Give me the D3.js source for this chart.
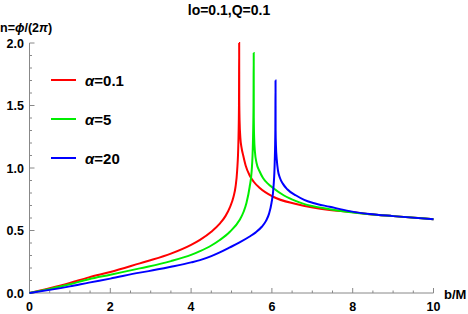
<!DOCTYPE html>
<html>
<head>
<meta charset="utf-8">
<script src="https://cdn.jsdelivr.net/npm/d3@7"></script>
<style>
  body { margin: 0; background: #fff; }
  text { font-family: Arial, "Liberation Sans", sans-serif; font-weight: bold; }
</style>
</head>
<body>
<div id="chart"></div>
<script>
// values (b/M, n)
const redB   = [0, 0.5, 1.0, 1.47, 2.0, 2.73, 2.95, 3.5, 4.0, 4.22, 4.5, 4.71, 4.85, 4.96, 5.05, 5.1, 5.14, 5.17, 5.185, 5.19, 5.192, 5.2, 5.22, 5.25, 5.29, 5.35, 5.45, 5.55, 5.7, 6.03, 6.6, 7.43, 7.92, 8.42, 9.0, 10];
const redN   = [0, 0.038, 0.08, 0.125, 0.168, 0.237, 0.258, 0.315, 0.385, 0.425, 0.49, 0.555, 0.615, 0.685, 0.77, 0.85, 0.98, 1.2, 1.5, 2.0, 1.55, 1.38, 1.24, 1.16, 1.1, 1.02, 0.94, 0.89, 0.84, 0.77, 0.712, 0.664, 0.65, 0.63, 0.615, 0.59];
const greenB = [0, 0.5, 1.0, 1.47, 2.0, 2.73, 2.95, 3.5, 4.0, 4.22, 4.5, 4.71, 4.96, 5.2, 5.3, 5.37, 5.45, 5.5, 5.53, 5.545, 5.55, 5.552, 5.56, 5.58, 5.62, 5.7, 5.78, 5.9, 6.03, 6.3, 6.6, 6.77, 7.43, 8.42, 9.0, 10];
const greenN = [0, 0.033, 0.07, 0.11, 0.146, 0.197, 0.212, 0.255, 0.305, 0.335, 0.38, 0.424, 0.49, 0.584, 0.65, 0.72, 0.85, 0.98, 1.2, 1.5, 1.92, 1.4, 1.25, 1.13, 1.04, 0.97, 0.92, 0.875, 0.84, 0.78, 0.735, 0.715, 0.67, 0.63, 0.615, 0.59];
const blueB  = [0, 0.5, 1.0, 1.47, 2.0, 2.73, 2.95, 3.5, 4.0, 4.22, 4.5, 4.71, 4.96, 5.2, 5.45, 5.6, 5.75, 5.85, 5.93, 5.99, 6.04, 6.07, 6.085, 6.09, 6.092, 6.1, 6.12, 6.15, 6.2, 6.27, 6.38, 6.6, 6.8, 7.02, 7.43, 7.92, 8.42, 9.0, 10];
const blueN  = [0, 0.025, 0.053, 0.083, 0.115, 0.163, 0.175, 0.21, 0.245, 0.263, 0.295, 0.325, 0.365, 0.405, 0.452, 0.485, 0.53, 0.575, 0.635, 0.72, 0.85, 1.05, 1.3, 1.7, 1.3, 1.18, 1.07, 0.98, 0.92, 0.875, 0.83, 0.78, 0.745, 0.72, 0.69, 0.655, 0.632, 0.615, 0.59];

const seriesNames = ["α=0.1", "α=5", "α=20"];
const seriesColors = ["#ff0000", "#00ee00", "#0000ff"];
const xTicks = [0, 2, 4, 6, 8, 10];
const yTicks = [0, 0.5, 1.0, 1.5, 2.0];

const W = 468, H = 314;
const svg = d3.select("#chart").append("svg")
  .attr("width", W).attr("height", H);

const x = d3.scaleLinear().domain([0, 10]).range([29.5, 433.5]);
const y = d3.scaleLinear().domain([0, 2]).range([293, 43]);
const axisColor = "#888";

// x axis
const xAxis = svg.append("g");
xAxis.append("line").attr("x1", x(0)).attr("x2", x(10))
  .attr("y1", y(0)).attr("y2", y(0)).attr("stroke", axisColor);
d3.range(0, 10.01, 0.5).forEach(v => {
  const major = Math.abs(v % 2) < 1e-6;
  xAxis.append("line").attr("x1", x(v)).attr("x2", x(v))
    .attr("y1", y(0)).attr("y2", y(0) - (major ? 5 : 2.5))
    .attr("stroke", axisColor);
});
xAxis.selectAll("text").data(xTicks).enter().append("text")
  .attr("x", d => x(d)).attr("y", 310.5)
  .attr("text-anchor", "middle").attr("font-size", 12.5)
  .text(d => d);

// y axis
const yAxis = svg.append("g");
yAxis.append("line").attr("x1", x(0)).attr("x2", x(0))
  .attr("y1", y(0)).attr("y2", y(2)).attr("stroke", axisColor);
d3.range(0, 20.01, 1).forEach(i => {
  const v = i / 10;
  const major = i % 5 === 0;
  yAxis.append("line").attr("x1", x(0)).attr("x2", x(0) + (major ? 5 : 2.5))
    .attr("y1", y(v)).attr("y2", y(v)).attr("stroke", axisColor);
});
yAxis.selectAll("text").data(yTicks).enter().append("text")
  .attr("x", 24).attr("y", d => y(d) + 4.5)
  .attr("text-anchor", "end").attr("font-size", 12.5)
  .text(d => d.toFixed(1));

// axis labels and title
const yl = svg.append("text").attr("x", 0).attr("y", 32).attr("font-size", 12.5);
yl.append("tspan").text("n=");
yl.append("tspan").attr("font-style", "italic").text("ϕ");
yl.append("tspan").text("/(2");
yl.append("tspan").attr("font-style", "italic").text("π");
yl.append("tspan").text(")");

svg.append("text").attr("x", 444).attr("y", 299).attr("font-size", 13).text("b/M");
svg.append("text").attr("x", 229).attr("y", 15).attr("text-anchor", "middle")
  .attr("font-size", 14).text("lo=0.1,Q=0.1");

// curves
const line = d3.line().x(d => x(d[0])).y(d => y(d[1])).curve(d3.curveMonotoneX);
const data = [d3.zip(redB, redN), d3.zip(greenB, greenN), d3.zip(blueB, blueN)];
data.forEach((pts, i) => {
  svg.append("path").datum(pts)
    .attr("d", line).attr("fill", "none")
    .attr("stroke", seriesColors[i]).attr("stroke-width", 2);
});

// legend
const legY = [80, 119, 158];
seriesNames.forEach((name, i) => {
  svg.append("line").attr("x1", 51).attr("x2", 76)
    .attr("y1", legY[i]).attr("y2", legY[i])
    .attr("stroke", seriesColors[i]).attr("stroke-width", 2);
  const t = svg.append("text").attr("x", 85).attr("y", legY[i] + 5.5).attr("font-size", 15);
  t.append("tspan").attr("font-style", "italic").text("α");
  t.append("tspan").text(name.slice(1));
});
</script>
</body>
</html>
